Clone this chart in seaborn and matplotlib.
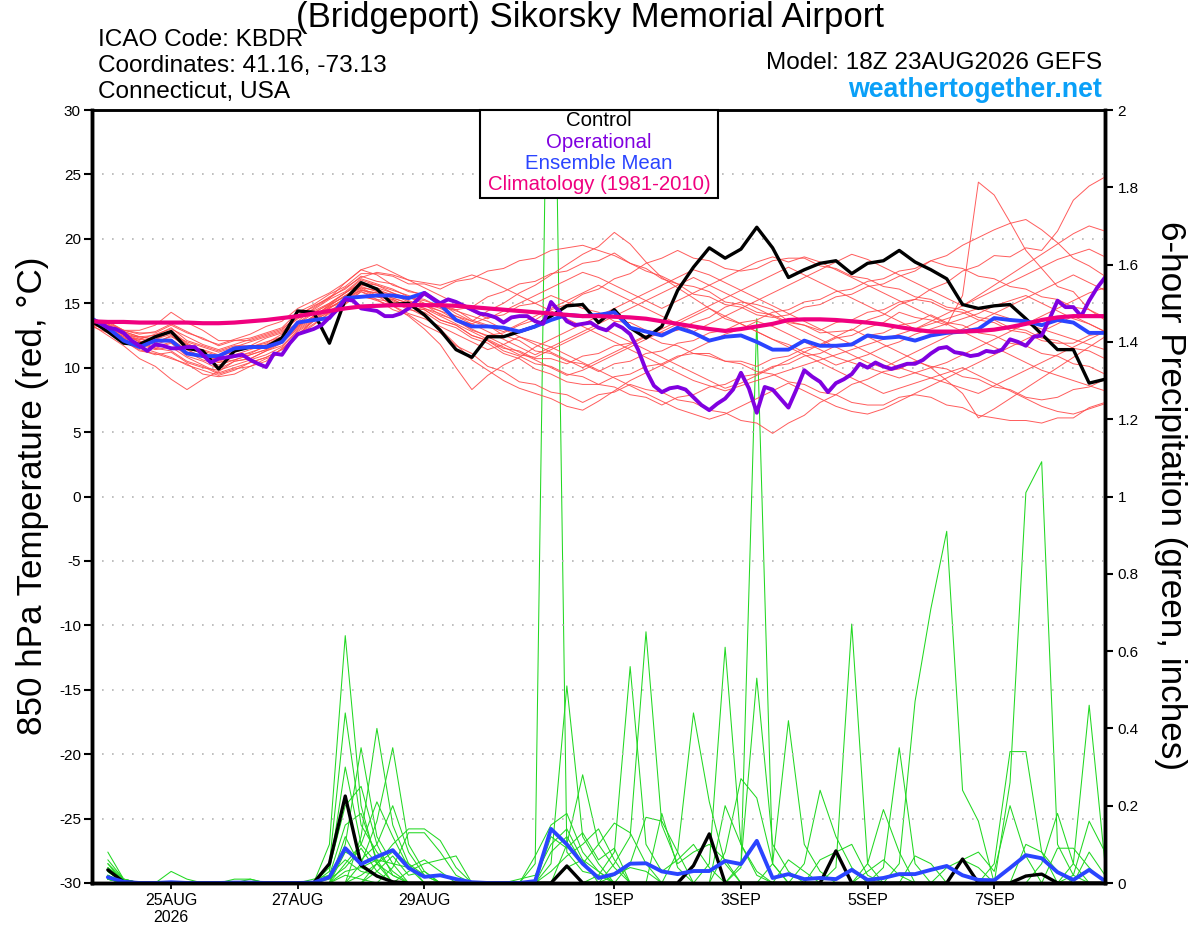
import numpy as np
import pandas as pd
import matplotlib
matplotlib.use("Agg")
import matplotlib.pyplot as plt
from matplotlib.patches import Rectangle
import seaborn as sns

# ---------------------------------------------------------------- data
RUN_START = "2026-08-23 18:00"          # 18Z 23AUG2026 GEFS, 0..384 h
N6 = 65                                  # 6-hourly steps
N3 = 129                                 # 3-hourly steps (operational)

XTICK_DATES = ["2026-08-25", "2026-08-27", "2026-08-29", "2026-09-01",
               "2026-09-03", "2026-09-05", "2026-09-07"]
XTICK_LABELS = ["25AUG\n2026", "27AUG", "29AUG", "1SEP", "3SEP", "5SEP", "7SEP"]
TEMP_TICKS = [-30, -25, -20, -15, -10, -5, 0, 5, 10, 15, 20, 25, 30]
TEMP_TICK_LABELS = ["-30", "-25", "-20", "-15", "-10", "-5", "0", "5", "10",
                    "15", "20", "25", "30"]
PCP_TICKS = [0, 0.2, 0.4, 0.6, 0.8, 1.0, 1.2, 1.4, 1.6, 1.8, 2.0]
PCP_TICK_LABELS = ["0", "0.2", "0.4", "0.6", "0.8", "1", "1.2", "1.4", "1.6",
                   "1.8", "2"]

LEGEND_LABELS = ["Control", "Operational", "Ensemble Mean",
                 "Climatology (1981-2010)"]
LEGEND_COLORS = ["#000000", "#8000e0", "#2a44ff", "#f0007f"]

# 850 hPa temperature, degC, 6-hourly
CONTROL_T = [
    13.6, 12.8, 11.9, 11.8, 12.4, 12.8, 11.5, 11.3, 9.9, 11.3,
    11.6, 11.6, 12.3, 14.4, 14.3, 11.9, 15.3, 16.6, 16.1, 14.9,
    15.0, 14.1, 12.9, 11.4, 10.8, 12.4, 12.4, 12.8, 13.2, 14.0,
    14.8, 14.9, 13.5, 14.5, 13.1, 12.3, 13.2, 16.0, 17.8, 19.3,
    18.5, 19.2, 20.9, 19.3, 17.0, 17.6, 18.1, 18.3, 17.3, 18.1,
    18.3, 19.1, 18.2, 17.6, 16.9, 14.9, 14.6, 14.8, 14.9, 13.8,
    12.6, 11.4, 11.4, 8.8, 9.1]
MEAN_T = [
    13.8, 13.1, 12.1, 11.6, 12.1, 12.1, 11.1, 10.9, 10.9, 11.5,
    11.6, 11.6, 12.0, 13.5, 13.7, 13.85, 15.4, 15.5, 15.6, 15.6,
    15.4, 15.8, 14.9, 13.7, 13.2, 13.2, 13.1, 12.8, 13.2, 13.7,
    14.1, 14.0, 14.1, 14.3, 13.1, 12.8, 12.5, 13.1, 12.7, 12.1,
    12.4, 12.5, 12.0, 11.4, 11.4, 12.1, 11.7, 11.7, 11.8, 12.5,
    12.3, 12.4, 12.1, 12.5, 12.7, 12.8, 13.0, 13.85, 13.7, 13.6,
    13.3, 13.7, 13.5, 12.7, 12.7]
CLIM_T = [
    13.6, 13.55, 13.55, 13.5, 13.5, 13.5, 13.5, 13.45, 13.45, 13.5,
    13.6, 13.7, 13.85, 14.0, 14.2, 14.4, 14.6, 14.75, 14.8, 14.85,
    14.85, 14.85, 14.85, 14.8, 14.7, 14.6, 14.5, 14.4, 14.3, 14.2,
    14.1, 14.0, 14.0, 13.95, 13.9, 13.8, 13.6, 13.4, 13.2, 13.0,
    12.85, 13.0, 13.2, 13.4, 13.7, 13.75, 13.75, 13.7, 13.6, 13.5,
    13.35, 13.15, 12.95, 12.8, 12.8, 12.8, 12.85, 12.95, 13.15, 13.4,
    13.7, 13.9, 14.0, 14.0, 14.0]
# operational run, 3-hourly
OPER_T = [
    13.7, 13.5, 13.1, 13.0, 12.7, 12.1, 11.7, 11.3, 11.8, 11.7,
    11.5, 11.5, 11.6, 11.6, 11.0, 10.4, 10.7, 10.8, 10.9, 11.0,
    10.6, 10.3, 10.05, 11.1, 11.0, 11.9, 12.6, 12.8, 13.0, 13.3,
    13.9, 14.5, 15.3, 15.2, 14.6, 14.5, 14.4, 14.0, 14.0, 14.2,
    14.6, 15.2, 15.8, 15.4, 15.0, 15.3, 15.1, 14.8, 14.5, 14.2,
    14.1, 13.9, 13.5, 13.9, 14.0, 14.0, 13.6, 13.4, 15.1, 14.4,
    13.6, 13.3, 13.4, 13.5, 13.1, 12.9, 13.4, 13.1, 12.6, 11.4,
    9.8, 8.6, 8.1, 8.4, 8.5, 8.3, 7.7, 7.1, 6.7, 7.2,
    7.6, 8.3, 9.6, 8.4, 6.5, 8.5, 8.3, 7.6, 6.9, 8.3,
    9.8, 9.3, 8.9, 8.1, 8.8, 9.1, 9.5, 10.3, 10.0, 10.4,
    10.1, 9.9, 10.1, 10.3, 10.3, 10.6, 11.1, 11.5, 11.6, 11.2,
    11.1, 10.9, 11.0, 11.3, 11.2, 11.4, 12.2, 12.0, 11.7, 12.4,
    12.5, 13.8, 15.2, 14.7, 14.7, 14.0, 15.2, 16.2, 17.0]

# ensemble members, 6-hourly
T_M01 = [13.4, 13.1, 12.3, 11.9, 12.4, 12.9, 11.9, 11.3, 10.9, 11.2,
         11.6, 11.9, 12.6, 13.5, 14.3, 14.9, 15.8, 16.5, 16.1, 15.6,
         15.5, 14.9, 14.4, 13.7, 13.4, 13.9, 14.1, 14.8, 15.0, 15.6,
         15.1, 14.6, 14.3, 13.6, 13.5, 12.9, 12.7, 12.9, 13.5, 13.9,
         14.7, 15.1, 14.9, 14.5, 13.6, 13.3, 12.7, 12.8, 12.9, 13.7,
         14.1, 14.9, 15.3, 16.1, 16.6, 17.5, 17.9, 18.7, 18.6, 19.3,
         19.1, 20.6, 23.0, 24.1, 24.8]
T_M02 = [13.6, 13.3, 12.7, 12.3, 11.9, 12.5, 11.5, 11.1, 10.5, 10.9,
         11.1, 11.7, 12.1, 13.3, 13.9, 14.7, 15.3, 16.1, 15.5, 15.3,
         14.7, 14.5, 13.7, 13.3, 12.5, 12.1, 11.5, 11.3, 10.7, 10.7,
         10.3, 10.9, 11.1, 11.7, 11.9, 12.5, 11.9, 11.7, 11.1, 10.9,
         10.5, 10.5, 10.1, 10.7, 10.9, 11.5, 11.7, 12.3, 12.5, 13.1,
         13.5, 14.3, 13.9, 13.7, 13.3, 15.6, 24.4, 23.4, 21.3, 19.1,
         17.7, 16.3, 15.9, 14.5, 13.7]
T_M03 = [13.5, 13.4, 12.5, 12.4, 12.5, 13.1, 12.1, 11.7, 11.3, 11.7,
         11.7, 12.3, 12.7, 13.9, 14.5, 15.3, 15.9, 16.9, 16.5, 16.1,
         15.5, 15.3, 14.7, 14.5, 14.7, 15.5, 15.9, 16.5, 16.7, 17.3,
         17.5, 18.1, 18.3, 18.9, 18.1, 17.7, 16.9, 16.5, 15.7, 15.5,
         14.9, 14.7, 14.1, 13.9, 14.1, 14.7, 14.9, 15.5, 15.7, 16.3,
         16.5, 17.1, 17.5, 18.3, 18.7, 19.5, 20.1, 20.7, 21.2, 21.5,
         20.7, 19.7, 18.5, 17.9, 17.1]
T_M04 = [13.2, 12.7, 12.1, 11.3, 11.1, 10.7, 10.3, 9.5, 9.3, 9.5,
         10.1, 10.5, 11.5, 12.5, 13.7, 14.3, 15.1, 15.5, 15.3, 14.5,
         14.1, 13.3, 12.7, 11.7, 11.1, 10.1, 9.7, 8.9, 8.7, 8.1,
         7.9, 7.3, 7.9, 8.1, 8.7, 8.3, 8.1, 7.5, 7.3, 6.7,
         6.5, 5.9, 5.7, 4.9, 5.7, 6.3, 7.3, 7.9, 8.7, 9.1,
         9.7, 9.9, 10.5, 10.1, 9.9, 9.3, 9.1, 8.5, 8.3, 7.7,
         7.5, 7.7, 8.3, 8.5, 9.1]
T_M05 = [13.6, 13.5, 12.9, 12.7, 12.7, 13.3, 12.7, 12.3, 11.7, 12.1,
         12.3, 12.7, 13.1, 14.3, 14.9, 15.7, 16.3, 17.3, 17.3, 17.1,
         16.5, 16.5, 16.1, 16.7, 16.9, 17.5, 17.7, 18.3, 18.5, 19.1,
         19.3, 19.5, 19.1, 18.7, 18.1, 17.5, 17.1, 16.5, 16.3, 15.9,
         15.1, 14.9, 14.3, 14.1, 13.5, 13.3, 12.9, 13.5, 13.7, 14.3,
         14.5, 15.1, 15.3, 15.1, 14.5, 14.3, 13.7, 13.5, 12.9, 12.7,
         12.1, 11.9, 11.9, 12.5, 12.7]
T_M06 = [13.4, 13.1, 12.3, 11.9, 11.5, 11.9, 10.9, 10.5, 9.9, 10.5,
         10.7, 11.3, 11.9, 13.1, 13.9, 14.9, 15.5, 16.3, 15.9, 15.7,
         15.1, 14.9, 14.1, 13.7, 12.9, 12.5, 12.7, 13.3, 13.7, 14.5,
         14.9, 15.7, 16.1, 16.9, 17.3, 18.1, 18.5, 19.1, 18.5, 18.3,
         17.7, 17.5, 17.7, 18.3, 18.5, 18.5, 17.9, 17.7, 17.1, 16.9,
         16.3, 16.1, 15.5, 15.3, 14.7, 14.5, 13.9, 13.7, 13.1, 12.9,
         12.3, 12.1, 11.5, 11.3, 10.7]
T_M07 = [13.5, 13.2, 12.5, 12.1, 11.5, 11.3, 10.5, 10.1, 9.5, 9.9,
         10.1, 10.7, 11.1, 12.5, 13.3, 14.3, 14.9, 15.9, 15.3, 15.1,
         14.5, 14.3, 13.5, 13.1, 12.3, 11.9, 11.1, 10.7, 9.9, 9.5,
         8.9, 8.7, 8.7, 9.3, 9.5, 10.1, 10.3, 10.9, 11.1, 11.1,
         10.5, 10.3, 9.7, 9.5, 8.9, 8.7, 8.1, 7.9, 7.3, 7.1,
         7.1, 7.7, 7.9, 7.7, 7.1, 6.9, 6.3, 6.1, 5.9, 5.9,
         5.7, 6.1, 6.1, 6.9, 7.3]
T_M08 = [13.7, 13.6, 12.9, 12.9, 13.3, 14.3, 13.5, 12.9, 12.1, 12.1,
         12.1, 12.5, 12.9, 14.1, 14.7, 15.5, 16.1, 17.1, 16.7, 16.5,
         15.9, 15.7, 14.9, 14.5, 13.7, 13.3, 12.5, 12.1, 11.3, 11.1,
         10.5, 10.3, 9.7, 10.3, 10.5, 11.1, 11.3, 11.9, 12.1, 12.7,
         12.9, 13.5, 13.7, 14.3, 14.5, 15.1, 15.3, 15.9, 16.1, 16.7,
         16.9, 17.5, 17.7, 18.3, 17.9, 17.7, 17.1, 16.9, 16.3, 16.1,
         15.5, 15.3, 14.7, 14.5, 13.9]
T_M09 = [13.3, 12.5, 11.7, 10.7, 10.1, 9.1, 8.3, 9.1, 9.7, 10.5,
         10.7, 11.3, 11.7, 12.9, 13.7, 14.7, 15.1, 15.9, 15.5, 15.3,
         14.7, 14.5, 13.7, 13.3, 12.5, 12.1, 11.3, 10.9, 10.3, 10.1,
         9.5, 9.3, 8.7, 8.5, 7.9, 7.7, 7.1, 7.7, 7.9, 8.5,
         8.7, 9.3, 9.5, 10.1, 10.3, 10.9, 11.1, 11.7, 11.9, 12.5,
         12.7, 13.3, 13.5, 14.1, 13.5, 13.3, 12.7, 12.5, 11.9, 11.7,
         11.1, 10.9, 10.3, 10.1, 9.5]
T_M10 = [13.5, 13.0, 12.6, 12.2, 12.0, 12.4, 11.8, 11.4, 11.0, 11.2,
         11.6, 12.0, 12.4, 13.6, 14.6, 15.4, 16.6, 17.6, 17.2, 16.4,
         16.0, 15.6, 15.0, 14.2, 13.6, 14.4, 15.0, 15.8, 16.4, 17.2,
         18.0, 18.8, 19.4, 20.5, 19.6, 18.2, 17.0, 16.2, 15.4, 14.6,
         13.8, 13.4, 12.8, 12.2, 11.8, 11.2, 10.8, 10.2, 10.6, 11.0,
         11.6, 12.0, 12.6, 13.0, 13.4, 13.8, 14.2, 14.8, 15.2, 15.6,
         15.0, 14.4, 13.8, 13.4, 12.8]
T_M11 = [13.4, 12.9, 12.2, 11.6, 11.2, 10.8, 10.2, 9.8, 9.4, 9.8,
         10.4, 10.8, 11.4, 12.6, 13.6, 14.4, 15.2, 16.0, 15.8, 15.2,
         14.6, 14.0, 13.0, 11.8, 10.6, 9.8, 9.0, 8.4, 8.0, 7.6,
         7.0, 6.7, 7.4, 8.2, 9.0, 9.6, 10.2, 10.8, 11.4, 12.0,
         12.6, 13.0, 13.6, 13.2, 12.6, 12.0, 11.4, 10.8, 10.4, 10.0,
         9.6, 9.2, 9.6, 10.0, 10.4, 11.0, 11.6, 12.2, 12.8, 13.4,
         14.0, 14.6, 15.2, 15.8, 16.2]
T_M12 = [13.6, 13.2, 12.6, 12.0, 11.8, 12.2, 11.4, 10.8, 10.4, 10.8,
         11.2, 11.6, 12.2, 13.2, 14.0, 14.8, 15.6, 16.2, 15.6, 14.8,
         14.0, 13.0, 11.8, 10.0, 8.3, 9.4, 10.2, 10.8, 11.6, 12.2,
         12.8, 13.4, 14.0, 14.6, 15.2, 15.8, 16.4, 17.0, 17.6, 17.2,
         16.6, 16.0, 15.4, 14.8, 14.2, 13.6, 13.0, 12.4, 11.8, 11.2,
         10.6, 10.0, 9.6, 9.2, 8.8, 8.4, 8.0, 8.6, 9.2, 9.8,
         10.4, 11.0, 11.6, 12.2, 12.8]
T_M13 = [13.3, 13.0, 12.4, 12.2, 12.6, 13.0, 12.4, 11.8, 11.4, 11.8,
         12.2, 12.6, 13.0, 14.0, 14.8, 15.4, 16.2, 17.0, 17.4, 17.2,
         16.8, 16.6, 16.4, 16.8, 17.2, 16.8, 16.2, 15.6, 15.0, 14.4,
         13.8, 13.2, 12.6, 12.0, 11.4, 10.8, 10.2, 9.6, 9.0, 8.6,
         8.2, 8.6, 9.0, 9.4, 9.8, 10.2, 10.6, 11.0, 11.4, 11.8,
         12.2, 12.6, 13.0, 13.4, 13.8, 14.2, 14.6, 14.2, 13.8, 13.4,
         13.0, 12.6, 12.2, 11.8, 11.4]
T_M14 = [13.5, 13.3, 12.8, 12.4, 12.2, 12.6, 12.0, 11.6, 11.2, 11.6,
         12.0, 12.4, 12.8, 13.8, 14.4, 15.0, 15.8, 16.6, 16.4, 15.8,
         15.2, 14.8, 14.4, 14.0, 13.6, 13.2, 12.8, 13.4, 14.0, 14.6,
         15.2, 15.8, 16.4, 15.8, 15.2, 14.6, 14.0, 13.4, 12.8, 13.4,
         14.0, 14.6, 15.2, 15.8, 16.4, 17.0, 17.6, 18.2, 18.8, 18.4,
         17.8, 17.2, 16.6, 16.0, 15.4, 14.8, 15.6, 16.4, 17.2, 18.0,
         18.8, 19.6, 20.4, 21.0, 20.6]
T_M15 = [13.4, 13.0, 12.0, 11.4, 11.0, 11.2, 10.4, 10.0, 9.8, 10.2,
         10.6, 11.0, 11.6, 12.8, 13.6, 14.6, 15.4, 16.2, 16.0, 15.4,
         15.0, 14.6, 14.2, 13.6, 13.0, 12.4, 11.8, 11.2, 10.6, 10.0,
         9.4, 9.8, 10.4, 11.0, 11.6, 12.2, 12.8, 13.4, 14.0, 14.6,
         14.0, 13.4, 12.8, 12.2, 11.6, 11.0, 10.4, 9.8, 9.2, 8.6,
         8.0, 8.4, 8.8, 9.2, 9.6, 10.0, 9.4, 8.8, 8.2, 7.6,
         7.0, 6.6, 6.4, 6.8, 7.2]
T_M16 = [13.6, 13.4, 12.9, 12.6, 12.8, 13.4, 12.8, 12.2, 11.8, 12.2,
         12.6, 13.2, 13.6, 14.6, 15.2, 15.8, 16.6, 17.6, 18.0, 17.4,
         16.8, 16.2, 15.6, 15.0, 14.4, 13.8, 14.4, 15.0, 15.6, 16.2,
         16.8, 17.4, 17.0, 16.4, 15.8, 15.2, 14.6, 15.2, 15.8, 16.4,
         17.0, 17.6, 18.2, 18.6, 18.2, 18.6, 18.2, 17.6, 17.0, 16.4,
         15.8, 15.2, 14.6, 14.0, 13.4, 12.8, 12.2, 11.6, 11.0, 10.4,
         9.8, 9.4, 9.0, 8.6, 8.2]
T_M17 = [13.5, 13.1, 12.4, 11.8, 11.4, 11.6, 10.8, 10.2, 9.6, 10.0,
         10.4, 10.8, 11.4, 12.6, 13.4, 14.2, 15.0, 15.6, 15.2, 14.8,
         14.2, 13.8, 13.2, 12.6, 12.0, 11.4, 11.8, 12.4, 12.0, 11.6,
         11.0, 10.4, 9.8, 9.2, 8.6, 8.0, 7.4, 6.8, 6.4, 6.0,
         6.4, 7.0, 7.6, 8.2, 8.8, 8.2, 7.6, 7.0, 6.6, 6.4,
         6.8, 7.4, 8.0, 8.6, 9.2, 9.8, 10.4, 11.0, 11.6, 12.2,
         12.8, 13.4, 14.0, 13.4, 12.8]
T_M18 = [13.4, 13.2, 12.6, 12.0, 12.2, 12.8, 11.8, 11.0, 10.6, 11.0,
         11.4, 11.8, 12.4, 13.4, 14.2, 15.0, 15.8, 16.8, 16.4, 16.0,
         15.6, 15.0, 14.6, 14.0, 13.4, 12.8, 12.2, 11.6, 11.0, 11.6,
         12.2, 12.8, 13.4, 14.0, 14.6, 15.2, 15.8, 16.4, 17.0, 16.4,
         15.8, 15.2, 14.6, 14.0, 13.4, 12.8, 12.2, 11.6, 11.0, 10.4,
         10.0, 10.6, 11.2, 11.8, 12.4, 13.0, 13.6, 14.2, 14.8, 15.4,
         16.0, 16.6, 17.2, 16.6, 16.0]
T_M19 = [13.6, 13.2, 12.8, 12.4, 12.2, 12.0, 11.4, 10.8, 10.4, 10.6,
         11.0, 11.4, 12.0, 13.0, 13.8, 14.6, 15.4, 16.0, 15.8, 15.4,
         15.0, 14.6, 14.0, 13.4, 12.8, 12.2, 11.6, 11.0, 10.8, 11.4,
         12.0, 12.6, 13.2, 12.6, 12.0, 11.4, 10.8, 10.2, 9.6, 9.0,
         8.4, 8.8, 9.4, 10.0, 10.6, 11.2, 11.8, 12.4, 13.0, 12.4,
         11.8, 11.2, 10.6, 10.0, 9.0, 8.0, 6.1, 6.8, 7.6, 8.4,
         9.2, 10.0, 10.8, 11.6, 12.4]
T_M20 = [13.5, 13.0, 12.2, 11.8, 11.6, 12.0, 11.2, 10.6, 10.2, 10.6,
         11.0, 11.4, 12.0, 13.2, 14.0, 14.8, 15.6, 16.4, 16.2, 15.8,
         15.4, 15.2, 14.8, 14.4, 14.0, 13.6, 13.0, 12.4, 11.8, 11.2,
         10.6, 10.0, 10.6, 11.2, 11.8, 12.4, 13.0, 13.6, 14.2, 14.8,
         15.4, 16.0, 16.6, 17.2, 17.8, 17.2, 16.6, 16.0, 15.4, 14.8,
         14.2, 13.6, 13.0, 13.6, 14.2, 14.8, 15.4, 16.0, 16.6, 17.2,
         17.8, 18.4, 18.8, 19.2, 18.6]

# 6-hour precipitation, inches, steps 1..64 (06 h .. 384 h)
CONTROL_P = [
    0.034, 0.003, 0, 0, 0, 0, 0, 0, 0, 0,
    0, 0, 0, 0, 0.05, 0.225, 0.046, 0.018, 0.003, 0,
    0, 0, 0, 0, 0, 0, 0, 0, 0, 0.044,
    0, 0, 0, 0, 0, 0, 0, 0.045, 0.127, 0,
    0, 0, 0, 0, 0, 0, 0.083, 0, 0, 0,
    0, 0, 0, 0, 0.062, 0, 0, 0, 0.018, 0.023,
    0, 0, 0, 0]
MEAN_P = [
    0.015, 0.003, 0, 0, 0.002, 0, 0, 0, 0.001, 0.001,
    0, 0, 0, 0.001, 0.015, 0.09, 0.049, 0.068, 0.085, 0.039,
    0.016, 0.02, 0.01, 0.002, 0, 0, 0, 0.005, 0.14, 0.10,
    0.05, 0.013, 0.023, 0.05, 0.051, 0.03, 0.023, 0.031, 0.031, 0.057,
    0.049, 0.109, 0.013, 0.023, 0.01, 0.013, 0.01, 0.034, 0.008, 0.013,
    0.023, 0.023, 0.034, 0.044, 0.02, 0.008, 0.007, 0.039, 0.072, 0.064,
    0.028, 0.008, 0.034, 0.005]
# members: non-zero amounts by step number (all other steps read as 0)
P_M01 = {1: 0.08, 2: 0.01, 15: 0.10, 16: 0.64, 17: 0.20, 18: 0.05, 19: 0.02,
         28: 0.05, 29: 2.9, 30: 0.08, 31: 0.03, 32: 0.02,
         58: 0.26, 59: 1.01, 60: 1.09, 61: 0.10, 62: 0.02}
P_M02 = {1: 0.06, 2: 0.01, 15: 0.05, 16: 0.44, 17: 0.15, 18: 0.08, 19: 0.03,
         29: 0.05, 30: 0.51, 31: 0.12, 32: 0.05, 62: 0.05, 63: 0.46, 64: 0.05}
P_M03 = {1: 0.05, 15: 0.03, 16: 0.30, 17: 0.10, 18: 0.05, 30: 0.10, 31: 0.28,
         32: 0.10, 33: 0.04, 46: 0.06, 47: 0.08, 48: 0.10, 49: 0.02,
         62: 0.02, 63: 0.16, 64: 0.08}
P_M04 = {1: 0.04, 2: 0.01, 16: 0.10, 17: 0.35, 18: 0.12, 19: 0.05, 28: 0.07,
         29: 0.15, 30: 0.18, 31: 0.08, 32: 0.03, 49: 0.03, 50: 0.06, 51: 0.02,
         60: 0.05, 61: 0.18, 62: 0.05}
P_M05 = {1: 0.04, 5: 0.03, 6: 0.01, 17: 0.12, 18: 0.40, 19: 0.15, 20: 0.05,
         29: 0.08, 30: 0.12, 31: 0.05, 32: 0.10, 33: 0.155, 34: 0.13, 35: 0.05,
         54: 0.04, 55: 0.06, 56: 0.08, 57: 0.03, 58: 0.20, 59: 0.07}
P_M06 = {1: 0.03, 17: 0.05, 18: 0.16, 19: 0.35, 20: 0.10, 21: 0.03, 32: 0.02,
         33: 0.08, 34: 0.56, 35: 0.10, 36: 0.03, 37: 0.06, 38: 0.10, 39: 0.04,
         61: 0.09, 62: 0.09, 63: 0.04}
P_M07 = {1: 0.03, 9: 0.01, 10: 0.01, 16: 0.05, 17: 0.10, 18: 0.21, 19: 0.12,
         20: 0.04, 33: 0.05, 34: 0.12, 35: 0.65, 36: 0.15, 37: 0.05, 38: 0.08,
         39: 0.10, 40: 0.06}
P_M08 = {1: 0.02, 10: 0.01, 18: 0.05, 19: 0.10, 20: 0.14, 21: 0.14, 22: 0.11,
         23: 0.04, 34: 0.05, 35: 0.17, 36: 0.16, 37: 0.08, 40: 0.20, 41: 0.10,
         42: 0.03}
P_M09 = {1: 0.02, 20: 0.03, 21: 0.05, 22: 0.06, 23: 0.07, 27: 0.01, 28: 0.02,
         29: 0.10, 30: 0.14, 31: 0.06, 37: 0.08, 38: 0.44, 39: 0.21, 40: 0.05}
P_M10 = {1: 0.02, 15: 0.04, 16: 0.20, 17: 0.25, 18: 0.10, 19: 0.02, 29: 0.12,
         30: 0.09, 31: 0.13, 32: 0.06, 33: 0.09, 39: 0.05, 40: 0.61, 41: 0.10,
         42: 0.02}
P_M11 = {1: 0.01, 16: 0.08, 17: 0.06, 18: 0.10, 19: 0.20, 20: 0.08, 21: 0.02,
         30: 0.04, 31: 0.06, 32: 0.03, 40: 0.08, 41: 0.27, 42: 0.22, 43: 0.05}
P_M12 = {1: 0.01, 15: 0.02, 16: 0.15, 17: 0.18, 18: 0.06, 29: 0.03, 30: 0.07,
         31: 0.10, 32: 0.14, 33: 0.06, 41: 0.05, 42: 0.53, 43: 0.10, 44: 0.03}
P_M13 = {1: 0.01, 16: 0.03, 17: 0.04, 18: 0.06, 19: 0.05, 20: 0.04, 21: 0.06,
         22: 0.03, 33: 0.02, 34: 0.04, 35: 0.03, 41: 0.04, 42: 1.46, 43: 0.05}
P_M14 = {14: 0.01, 15: 0.02, 16: 0.06, 17: 0.03, 18: 0.02, 36: 0.18, 37: 0.04,
         43: 0.05, 44: 0.42, 45: 0.10, 46: 0.03}
P_M15 = {1: 0.05, 2: 0.01, 18: 0.03, 19: 0.07, 20: 0.02, 21: 0.03, 45: 0.05,
         46: 0.24, 47: 0.12, 48: 0.04, 52: 0.07, 53: 0.05}
P_M16 = {1: 0.03, 16: 0.12, 17: 0.04, 18: 0.02, 47: 0.04, 48: 0.67, 49: 0.05,
         55: 0.06, 56: 0.04}
P_M17 = {1: 0.02, 17: 0.02, 18: 0.05, 19: 0.08, 20: 0.05, 21: 0.02, 49: 0.05,
         50: 0.19, 51: 0.08, 59: 0.10, 60: 0.08, 61: 0.03}
P_M18 = {1: 0.01, 15: 0.01, 16: 0.04, 17: 0.09, 18: 0.03, 50: 0.04, 51: 0.35,
         52: 0.05, 63: 0.08, 64: 0.02}
P_M19 = {19: 0.04, 20: 0.13, 21: 0.13, 22: 0.08, 23: 0.02, 51: 0.05, 52: 0.47,
         53: 0.71, 54: 0.91, 55: 0.24, 56: 0.16}
P_M20 = {1: 0.01, 16: 0.02, 17: 0.01, 44: 0.06, 45: 0.03, 57: 0.05, 58: 0.34,
         59: 0.34, 60: 0.08}

TEMP_MEMBERS = [T_M01, T_M02, T_M03, T_M04, T_M05, T_M06, T_M07, T_M08, T_M09,
                T_M10, T_M11, T_M12, T_M13, T_M14, T_M15, T_M16, T_M17, T_M18,
                T_M19, T_M20]
PCP_MEMBERS = [P_M01, P_M02, P_M03, P_M04, P_M05, P_M06, P_M07, P_M08, P_M09,
               P_M10, P_M11, P_M12, P_M13, P_M14, P_M15, P_M16, P_M17, P_M18,
               P_M19, P_M20]

for arr in TEMP_MEMBERS + [CONTROL_T, MEAN_T, CLIM_T]:
    assert len(arr) == N6, len(arr)
assert len(OPER_T) == N3
assert len(CONTROL_P) == N6 - 1 and len(MEAN_P) == N6 - 1

# ---------------------------------------------------------------- frames
times = pd.date_range(RUN_START, periods=N6, freq="6h")
op_times = pd.date_range(RUN_START, periods=N3, freq="3h")
pcp_times = times[1:]

df_t = pd.concat([pd.DataFrame({"time": times, "temp": m, "member": k})
                  for k, m in enumerate(TEMP_MEMBERS)], ignore_index=True)
df_p = pd.concat([pd.DataFrame({"time": pcp_times,
                                "pcp": [m.get(s, 0.0) for s in range(1, N6)],
                                "member": k})
                  for k, m in enumerate(PCP_MEMBERS)], ignore_index=True)

# ---------------------------------------------------------------- style
sns.set_style("ticks")
plt.rcParams["font.family"] = ["Liberation Sans", "DejaVu Sans"]
plt.rcParams["text.color"] = "black"
plt.rcParams["axes.labelcolor"] = "black"
plt.rcParams["xtick.color"] = "black"
plt.rcParams["ytick.color"] = "black"

RED = "#ff4a4a"
GREEN = "#22d822"

fig = plt.figure(figsize=(12, 9.27), dpi=100, facecolor="white")
ax = fig.add_axes([92 / 1200, 1 - 883 / 927, 1013 / 1200, 773 / 927])
ax2 = ax.twinx()
ax.set_zorder(ax2.get_zorder() + 1)
ax.patch.set_visible(False)

# precipitation (right axis)
sns.lineplot(data=df_p, x="time", y="pcp", units="member", estimator=None,
             color=GREEN, lw=0.75, ax=ax2, legend=False)
sns.lineplot(x=pcp_times, y=CONTROL_P, color="black", lw=2.4, ax=ax2)
sns.lineplot(x=pcp_times, y=MEAN_P, color="#2a44ff", lw=2.8, ax=ax2)

# temperature (left axis)
sns.lineplot(data=df_t, x="time", y="temp", units="member", estimator=None,
             color=RED, lw=0.7, alpha=0.9, ax=ax, legend=False)
sns.lineplot(x=times, y=CONTROL_T, color="black", lw=2.4, ax=ax)
sns.lineplot(x=times, y=MEAN_T, color="#2a44ff", lw=2.8, ax=ax)
sns.lineplot(x=op_times, y=OPER_T, color="#8000e0", lw=2.8, ax=ax)
sns.lineplot(x=times, y=CLIM_T, color="#f0007f", lw=3.0, ax=ax)

ax.set_xlim(times[0], times[-1])
ax.set_ylim(-30, 30)
ax2.set_ylim(0, 2)

ax.set_yticks(TEMP_TICKS)
ax.set_yticklabels(TEMP_TICK_LABELS)
ax2.set_yticks(PCP_TICKS)
ax2.set_yticklabels(PCP_TICK_LABELS)
ax.set_xticks([pd.Timestamp(d) for d in XTICK_DATES])
ax.set_xticklabels(XTICK_LABELS)
for a in (ax, ax2):
    a.set_xlabel("")
    a.set_ylabel("")

ax.grid(axis="y", color="#b4b4b4", lw=1.2, linestyle=(0, (1, 5)))
ax.grid(axis="x", visible=False)
ax2.grid(False)

ax.tick_params(axis="y", left=True, right=False, direction="out", length=6,
               width=1.5, labelsize=11, pad=2, colors="black")
ax.tick_params(axis="x", bottom=True, direction="out", length=4, width=1.3,
               labelsize=11.5, pad=3, colors="black")
ax2.tick_params(axis="y", right=True, left=False, direction="out", length=6,
                width=1.5, labelsize=11, pad=3, colors="black")
for a in (ax, ax2):
    for side, sp in a.spines.items():
        sp.set_color("black")
        sp.set_linewidth(1.8 if side == "top" else 2.5)

# legend box
box = Rectangle((0.383, 0.886), 0.235, 0.114, transform=ax.transAxes,
                facecolor="white", edgecolor="black", lw=1.5, zorder=20,
                clip_on=False)
ax.add_patch(box)
for lab, col, yy in zip(LEGEND_LABELS, LEGEND_COLORS,
                        [0.9858, 0.9586, 0.9314, 0.9030]):
    ax.text(0.5005, yy, lab, color=col, fontsize=14.7, ha="center",
            va="center", transform=ax.transAxes, zorder=21)

# titles and labels
fig.text(0.4917, 0.9806, "(Bridgeport) Sikorsky Memorial Airport",
         fontsize=25, ha="center", va="center", color="black")
fig.text(0.0817, 0.9569, "ICAO Code: KBDR", fontsize=17.6, ha="left",
         va="center", color="black")
fig.text(0.0817, 0.9288, "Coordinates: 41.16, -73.13", fontsize=17.6,
         ha="left", va="center", color="black")
fig.text(0.0817, 0.9008, "Connecticut, USA", fontsize=17.6, ha="left",
         va="center", color="black")
fig.text(0.9183, 0.9320, "Model: 18Z 23AUG2026 GEFS", fontsize=17.6,
         ha="right", va="center", color="black")
fig.text(0.9183, 0.9029, "weathertogether.net", fontsize=19.3,
         fontweight="bold", color="#0aa0f8", ha="right", va="center")
fig.text(0.0275, 0.465, "850 hPa Temperature (red, \u00b0C)", fontsize=25.2,
         rotation=90, ha="center", va="center", color="black")
fig.text(0.975, 0.466, "6-hour Precipitation (green, inches)", fontsize=25.3,
         rotation=270, ha="center", va="center", color="black")

fig.savefig("out.png", dpi=100, facecolor="white")
